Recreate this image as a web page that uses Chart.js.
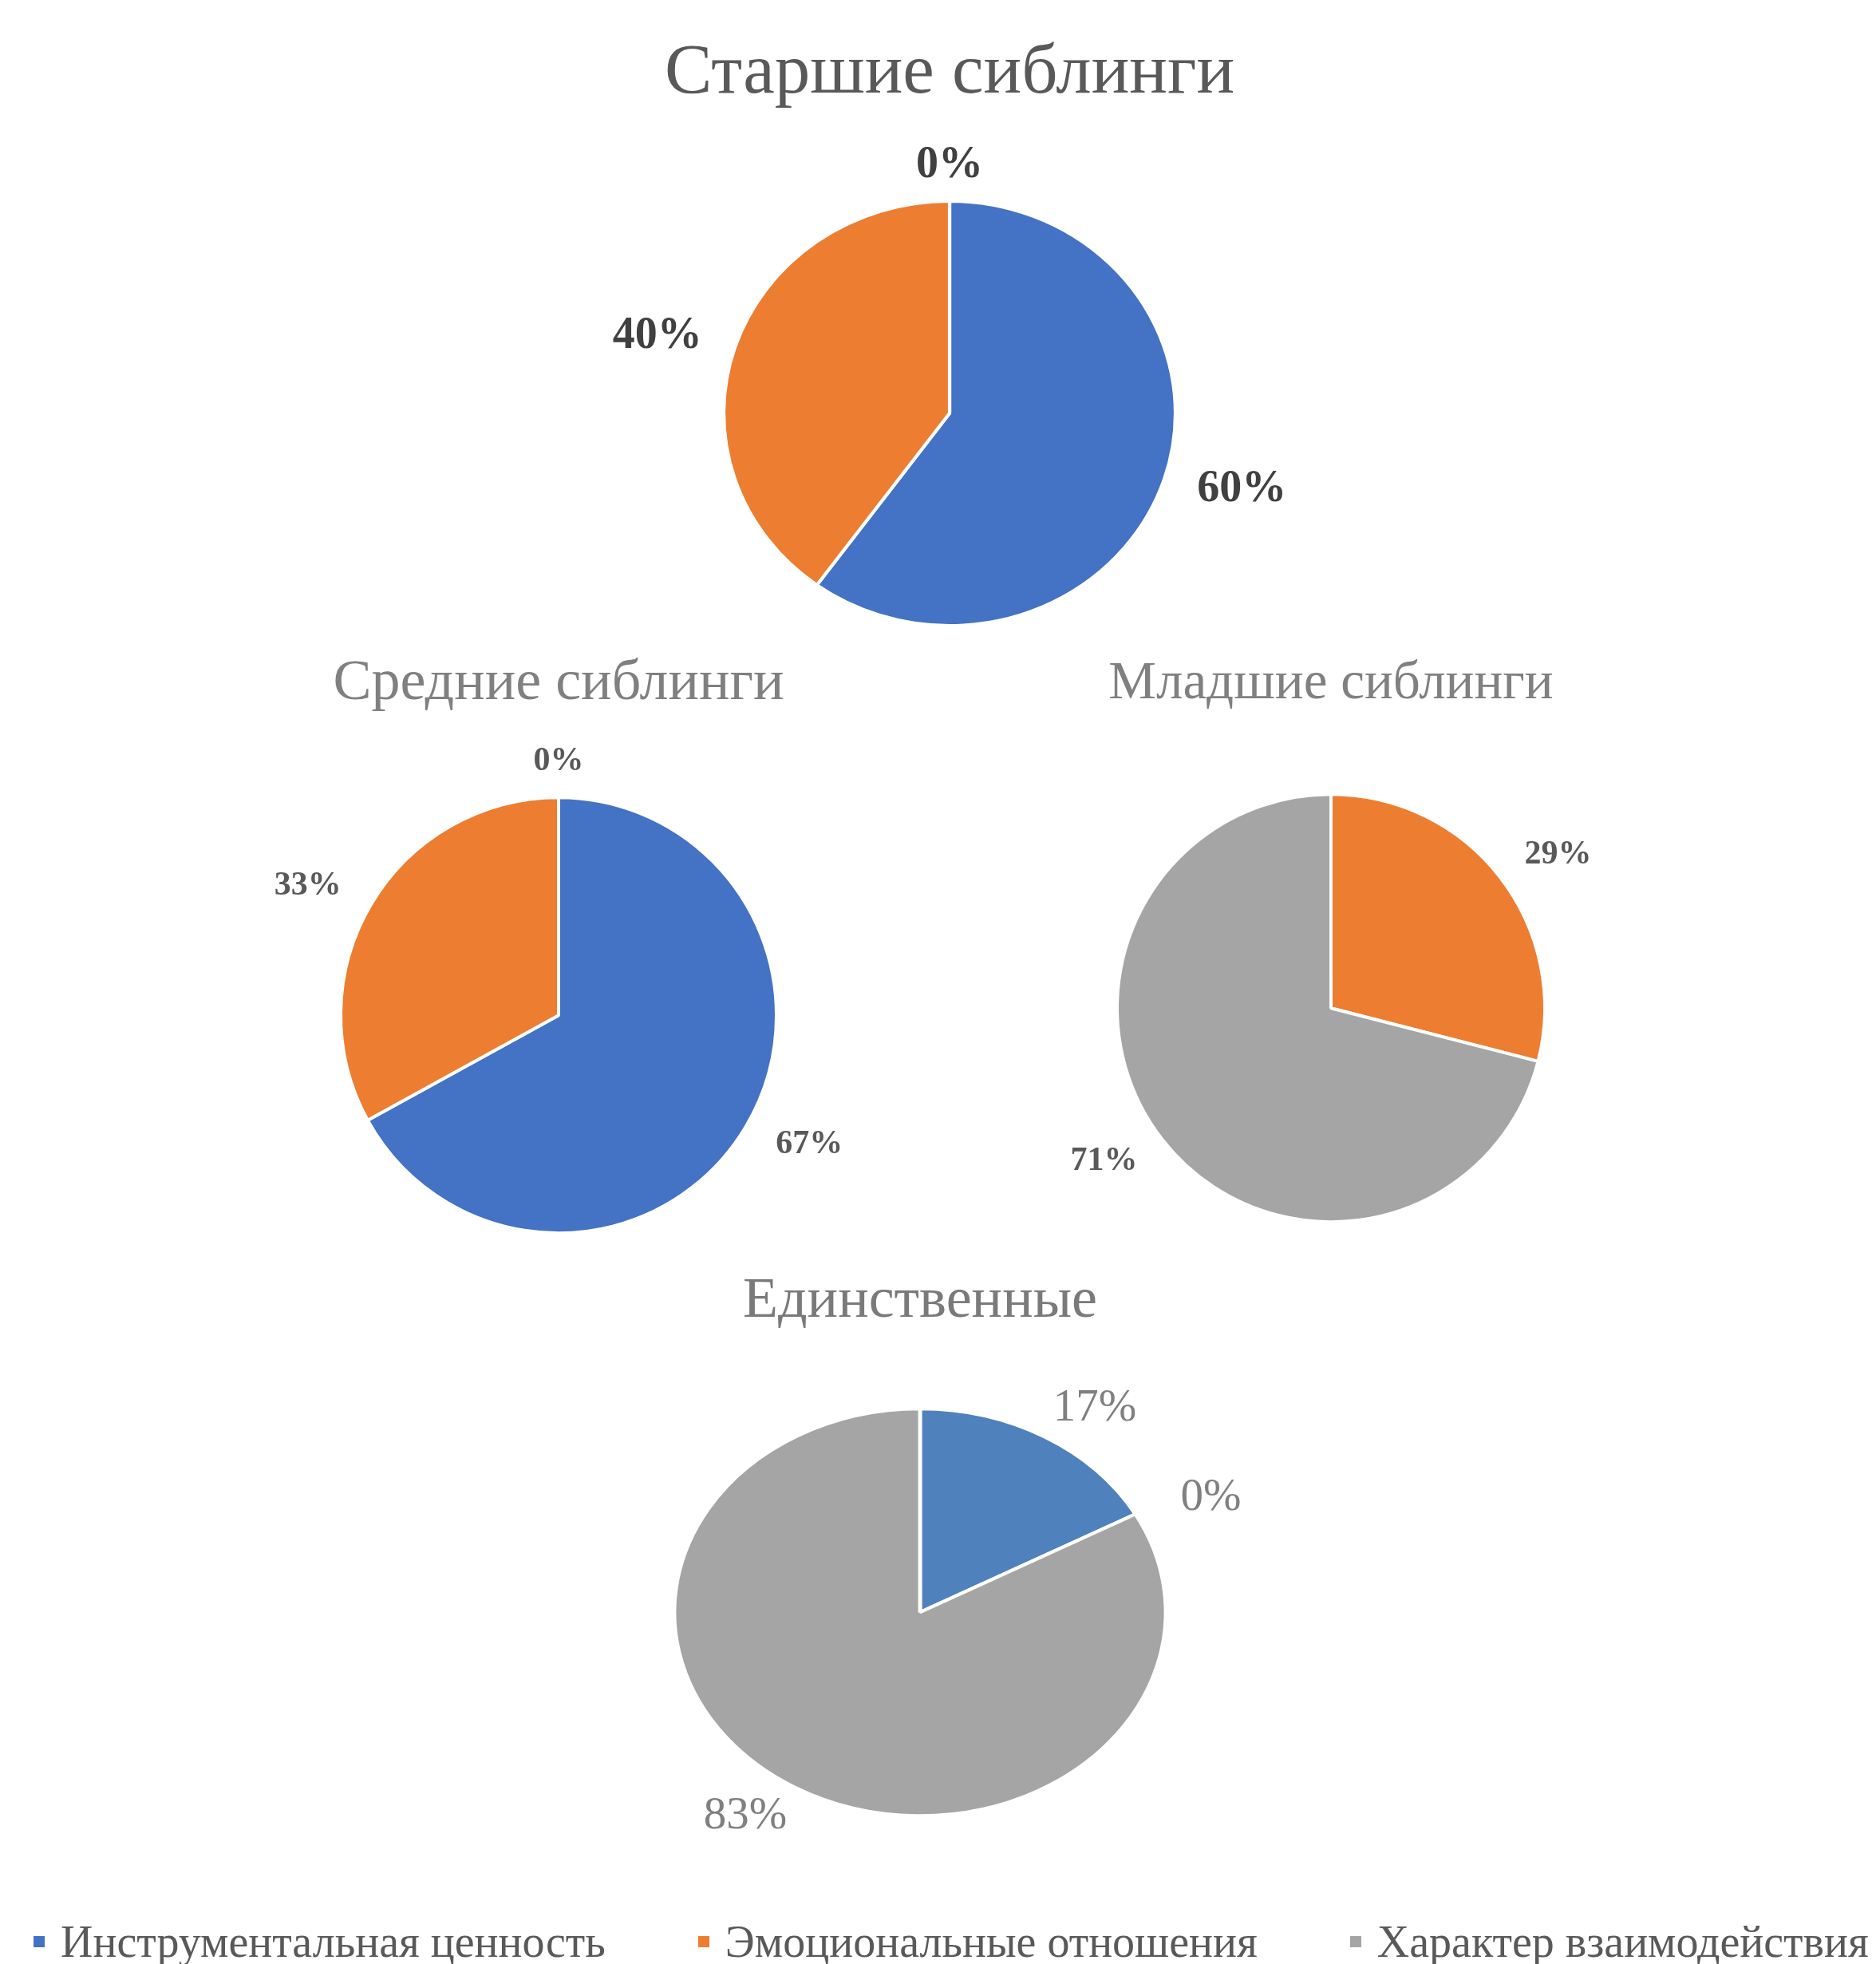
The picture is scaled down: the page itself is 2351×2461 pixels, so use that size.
<!DOCTYPE html>
<html lang="ru">
<head>
<meta charset="utf-8">
<script src="https://cdn.jsdelivr.net/npm/chart.js@4.4.1/dist/chart.umd.min.js"></script>
<style>
  html, body { margin: 0; padding: 0; background: #fff; }
  body { width: 2351px; height: 2461px; position: relative; overflow: hidden;
         font-family: "Liberation Serif", "Times New Roman", serif; }
  .box { position: absolute; }
  #legend { position: absolute; left: 42px; top: 2405px; display: flex; align-items: center;
            white-space: nowrap; font-size: 56px; line-height: 1; color: #595959; }
  .item { display: flex; align-items: center; margin-right: 116px; }
  .mark { width: 14px; height: 14px; margin-right: 20px; }
</style>
</head>
<body>
<div class="box" id="box-older"><canvas id="older"></canvas></div>
<div class="box" id="box-middle"><canvas id="middle"></canvas></div>
<div class="box" id="box-younger"><canvas id="younger"></canvas></div>
<div class="box" id="box-only"><canvas id="only"></canvas></div>
<div id="legend"></div>

<script>
// ================== DATA ==================
const categories = ["Инструментальная ценность", "Эмоциональные отношения", "Характер взаимодействия"];
const titles = ["Старшие сиблинги", "Средние сиблинги", "Младшие сиблинги", "Единственные"];
const olderValues = [60, 40, 0];
const middleValues = [67, 33, 0];
const youngerValues = [0, 29, 71];
const onlyValues = [17, 0, 83];

// ================== COLOURS ==================
const palette = ["#4472C4", "#ED7D31", "#A5A5A5"];
const paletteOnly = ["#4F81BD", "#ED7D31", "#A5A5A5"];
const serif = '"Liberation Serif", "Times New Roman", serif';

// ================== PLUGIN: oval pie + outside labels ==================
const pieExtras = {
  id: "pieExtras",
  beforeDatasetsDraw(chart, args, opts) {
    const a = chart.getDatasetMeta(0).data[0];
    const ctx = chart.ctx;
    ctx.save();
    ctx.translate(a.x, a.y);
    ctx.scale(opts.stretchX || 1, 1);
    ctx.translate(-a.x, -a.y);
  },
  afterDatasetsDraw(chart, args, opts) {
    const ctx = chart.ctx;
    ctx.restore();
    const ds = chart.data.datasets[0];
    const sx = opts.stretchX || 1;
    const skip = opts.skip || [];
    ctx.save();
    ctx.font = (opts.weight || "normal") + " " + opts.size + "px " + serif;
    ctx.fillStyle = opts.color;
    ctx.textAlign = "center";
    ctx.textBaseline = "middle";
    chart.getDatasetMeta(0).data.forEach((arc, i) => {
      if (skip.includes(i)) return;
      const p = arc.getProps(["x", "y", "startAngle", "endAngle", "outerRadius"], true);
      const mid = (p.startAngle + p.endAngle) / 2;
      const ex = Math.cos(mid), ey = Math.sin(mid);
      const txt = ds.data[i] + "%";
      const w = ctx.measureText(txt).width;
      const h = opts.size * 0.7;
      const x = p.x + ex * (p.outerRadius * sx + opts.gapX) + ex * w / 2;
      const y = p.y + ey * (p.outerRadius + opts.gapY) + ey * h / 2;
      ctx.fillText(txt, x, y);
    });
    ctx.restore();
  }
};

// ================== LAYOUT ==================
function placeBox(id, cx, cy, titleY, titleSize, half) {
  const top = Math.round(titleY - 0.6 * titleSize - 10);
  const areaTop = top + 10 + 1.2 * titleSize;
  const h = Math.round(2 * cy - areaTop - top);
  const el = document.getElementById(id);
  el.style.left = (cx - half) + "px";
  el.style.top = top + "px";
  el.style.width = (2 * half) + "px";
  el.style.height = h + "px";
}

function makePie(canvasId, values, title, cfg) {
  return new Chart(document.getElementById(canvasId), {
    type: "pie",
    data: {
      labels: categories,
      datasets: [{
        data: values,
        backgroundColor: cfg.colors,
        borderColor: "#ffffff",
        borderWidth: 4,
        radius: cfg.radius
      }]
    },
    options: {
      responsive: true,
      maintainAspectRatio: false,
      animation: false,
      devicePixelRatio: 1,
      layout: { padding: 0 },
      plugins: {
        legend: { display: false },
        tooltip: { enabled: false },
        title: {
          display: true,
          text: title,
          color: cfg.titleColor,
          font: { family: serif, size: cfg.titleSize, weight: "normal" },
          padding: { top: 10, bottom: 0 }
        },
        pieExtras: cfg.labels
      }
    },
    plugins: [pieExtras]
  });
}

// ================== CHARTS ==================
placeBox("box-older", 1190, 518, 92, 89, 500);
makePie("older", olderValues, titles[0], {
  colors: palette, radius: 266, titleColor: "#595959", titleSize: 89,
  labels: { stretchX: 283 / 266, gapX: 46, gapY: 25, size: 56, weight: "bold", color: "#404040" }
});

placeBox("box-middle", 700, 1272, 857, 72, 420);
makePie("middle", middleValues, titles[1], {
  colors: palette, radius: 273, titleColor: "#808080", titleSize: 72,
  labels: { stretchX: 1, gapX: 50, gapY: 30, size: 42, weight: "bold", color: "#595959" }
});

placeBox("box-younger", 1668, 1263, 857, 67, 420);
makePie("younger", youngerValues, titles[2], {
  colors: palette, radius: 268, titleColor: "#808080", titleSize: 67,
  labels: { stretchX: 1, gapX: 50, gapY: 30, size: 42, weight: "bold", color: "#595959", skip: [0] }
});

placeBox("box-only", 1153, 2020, 1631, 72, 460);
makePie("only", onlyValues, titles[3], {
  colors: paletteOnly, radius: 255, titleColor: "#7a7a7a", titleSize: 72,
  labels: { stretchX: 308 / 255, gapX: 70, gapY: 22, size: 57, weight: "normal", color: "#808080" }
});

// ================== LEGEND ==================
const legend = document.getElementById("legend");
categories.forEach((name, i) => {
  const item = document.createElement("div");
  item.className = "item";
  const mark = document.createElement("span");
  mark.className = "mark";
  mark.style.background = palette[i];
  const text = document.createElement("span");
  text.textContent = name;
  item.appendChild(mark);
  item.appendChild(text);
  legend.appendChild(item);
});
</script>
</body>
</html>
